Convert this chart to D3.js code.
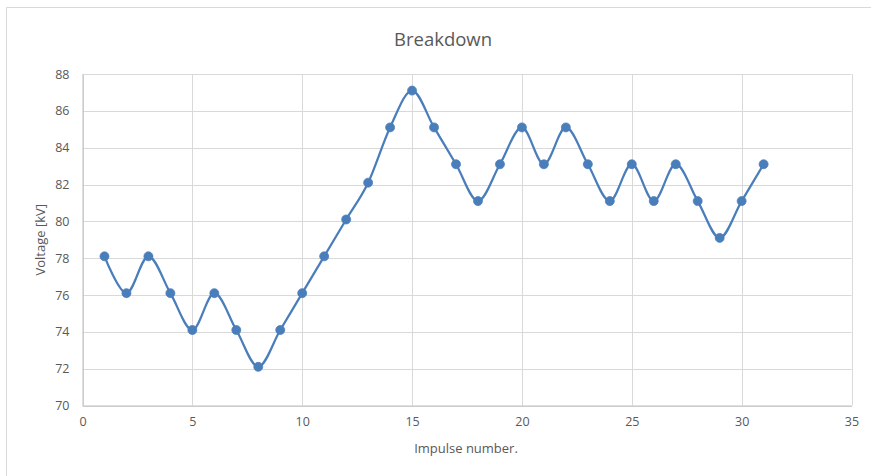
<!DOCTYPE html>
<html><head><meta charset="utf-8">
<script src="https://cdn.jsdelivr.net/npm/d3@7"></script>
<style>body{margin:0;background:#fff;font-family:"Open Sans","Liberation Sans",sans-serif;}</style>
</head><body>
<svg id="c" width="871" height="476"></svg>
<script>
const impulses = [1,2,3,4,5,6,7,8,9,10,11,12,13,14,15,16,17,18,19,20,21,22,23,24,25,26,27,28,29,30,31];
const voltages = [78.1,76.1,78.1,76.1,74.1,76.1,74.1,72.1,74.1,76.1,78.1,80.1,82.1,85.1,87.1,85.1,83.1,81.1,83.1,85.1,83.1,85.1,83.1,81.1,83.1,81.1,83.1,81.1,79.1,81.1,83.1];
const xTicks = [0,5,10,15,20,25,30,35];
const yTicks = [70,72,74,76,78,80,82,84,86,88];
const title = "Breakdown", xTitle = "Impulse number.", yTitle = "Voltage [kV]";

const svg = d3.select("#c");
const L = 82.5, R = 851.5, T = 74, B = 405.5;
const txt = "#595959", grid = "#d9d9d9", blue = "#4a7ebb";
const ff = "'Open Sans','Liberation Sans',sans-serif";

// chart area border (only top and left visible in the crop)
svg.append("line").attr("x1",6.5).attr("x2",871).attr("y1",7.5).attr("y2",7.5).attr("stroke","#d9d9d9");
svg.append("line").attr("x1",6.5).attr("x2",6.5).attr("y1",7.5).attr("y2",476).attr("stroke","#d9d9d9");

const x = d3.scaleLinear().domain([0,35]).range([L,R]);
const y = d3.scaleLinear().domain([70,88]).range([B,T]);

const g = svg.append("g");
g.selectAll(".hg").data(yTicks).join("line")
  .attr("x1",L).attr("x2",R).attr("y1",d=>Math.round(y(d))+0.5).attr("y2",d=>Math.round(y(d))+0.5)
  .attr("stroke",grid).attr("stroke-width",1);
g.selectAll(".vg").data(xTicks).join("line")
  .attr("y1",T).attr("y2",B).attr("x1",d=>Math.round(x(d))+0.5).attr("x2",d=>Math.round(x(d))+0.5)
  .attr("stroke",grid).attr("stroke-width",1);

const ya = d3.axisLeft(y).tickValues(yTicks).tickSize(0).tickPadding(13);
const yg = svg.append("g").attr("transform",`translate(${L},0)`).call(ya);
yg.select(".domain").attr("stroke","#bfbfbf");
yg.selectAll("text").attr("fill",txt).style("font-size","12.5px").style("font-family",ff);
const xa = d3.axisBottom(x).tickValues(xTicks).tickSize(0).tickPadding(12);
const xg = svg.append("g").attr("transform",`translate(0,${B})`).call(xa);
xg.select(".domain").attr("stroke","#bfbfbf");
xg.selectAll("text").attr("fill",txt).style("font-size","12.5px").style("font-family",ff);

const pts = impulses.map((d,i)=>[d,voltages[i]]);
const line = d3.line().x(d=>x(d[0])).y(d=>y(d[1])).curve(d3.curveCatmullRom.alpha(0));
svg.append("path").datum(pts).attr("d",line).attr("fill","none")
  .attr("stroke",blue).attr("stroke-width",2.25).attr("stroke-linejoin","round");
svg.selectAll(".pt").data(pts).join("circle")
  .attr("cx",d=>x(d[0])).attr("cy",d=>y(d[1])).attr("r",4.5)
  .attr("fill",blue).attr("stroke",blue).attr("stroke-width",0.75);

svg.append("text").attr("x",443).attr("y",46).attr("text-anchor","middle")
  .attr("fill",txt).style("font-size","18.5px").style("font-family",ff).text(title);
svg.append("text").attr("x",466).attr("y",453).attr("text-anchor","middle")
  .attr("fill",txt).style("font-size","13px").style("font-family",ff).text(xTitle);
svg.append("text").attr("transform",`translate(45,${(T+B)/2}) rotate(-90)`).attr("text-anchor","middle")
  .attr("fill",txt).style("font-size","13px").style("font-family",ff).text(yTitle);
</script>
</body></html>
